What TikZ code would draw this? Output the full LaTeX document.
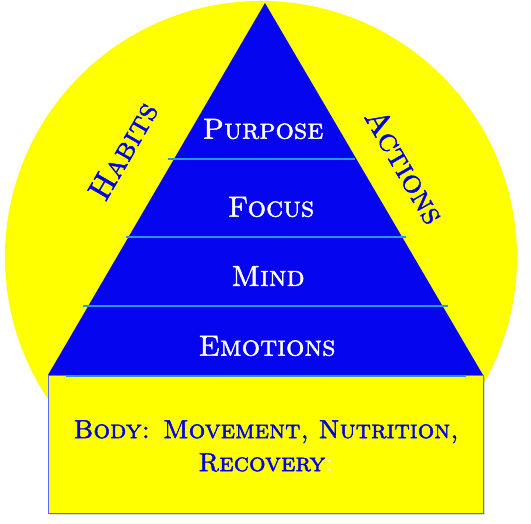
\documentclass[tikz,border=0pt]{standalone}
\usetikzlibrary{shadows}
\definecolor{ybg}{RGB}{255,255,0}
\definecolor{tblue}{RGB}{5,5,240}
\definecolor{lblue}{RGB}{40,150,240}
\definecolor{rborder}{RGB}{100,100,255}
\definecolor{txtblue}{RGB}{0,0,230}
\newcommand{\fakebold}[1]{\special{pdf:literal direct 2 Tr 0.45 w}#1\special{pdf:literal direct 0 Tr 1 w}}
\begin{document}
\begin{tikzpicture}[x=1pt,y=-1pt,
  layerline/.style={draw=lblue,line width=2pt},
  pyrlabel/.style={text=white,font=\fontsize{29}{33}\selectfont\scshape},
  sidelabel/.style={text=txtblue,font=\fontsize{32}{34}\selectfont\scshape},
  bodytext/.style={text=txtblue,font=\fontsize{26}{33}\selectfont\scshape,align=center}]
\useasboundingbox (0,0) rectangle (531,523);
% background circle (hidden below the box)
\begin{scope}
\clip (0,0) rectangle (531,512);
\fill[ybg] (261,257) circle[radius=256];
\end{scope}
% pyramid
\coordinate (apex) at (265,3);
\coordinate (bl) at (48,375);
\coordinate (br) at (483,375);
\fill[tblue] (apex) -- (br) -- (bl) -- cycle;
% body box
\node[draw=rborder,fill=ybg,line width=1.2pt,minimum width=435pt,minimum height=138pt,inner sep=0pt,anchor=north west,drop shadow={shadow xshift=1pt,shadow yshift=-1.5pt,opacity=0.3}] (body) at (48,375) {};
% layer lines
\coordinate (l1a) at (168,159); \coordinate (l1b) at (355,159);
\coordinate (l2a) at (126,237); \coordinate (l2b) at (406,237);
\coordinate (l3a) at (83,306);  \coordinate (l3b) at (448,306);
\coordinate (l4a) at (66,376);  \coordinate (l4b) at (466,376);
\draw[layerline] (l1a) -- (l1b);
\draw[layerline] (l2a) -- (l2b);
\draw[layerline] (l3a) -- (l3b);
\draw[layerline] (l4a) -- (l4b);
% labels
\node[pyrlabel] (purpose) at (263,129) {\fakebold{Purpose}};
\node[pyrlabel] (focus) at (271,207) {\fakebold{Focus}};
\node[pyrlabel] (mind) at (268,276) {\fakebold{Mind}};
\node[pyrlabel] (emotions) at (267,346) {\fakebold{Emotions}};
\node[sidelabel,rotate=60] (habits) at (123,151) {\fakebold{Habits}};
\node[sidelabel,rotate=-60] (actions) at (405,166) {\fakebold{Actions}};
\node[bodytext] (bodytxt) at (266,446) {\fakebold{Body: Movement, Nutrition,}\\\fakebold{Recovery}\textcolor{white}{:}};
\end{tikzpicture}
\end{document}
